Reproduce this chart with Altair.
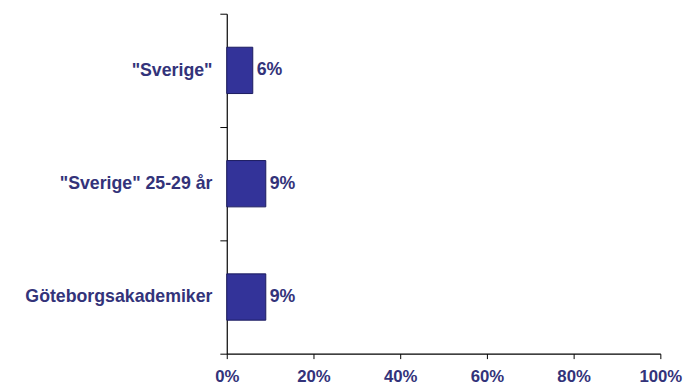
import altair as alt
import pandas as pd

categories = ['"Sverige"', '"Sverige" 25-29 år', "Göteborgsakademiker"]
values = [0.06, 0.09, 0.09]
labels = ["6%", "9%", "9%"]

df = pd.DataFrame({"cat": categories, "val": values, "lab": labels})

FONT = "Liberation Sans"
TXT = "#33337a"

y = alt.Y("cat:N", sort=categories, title=None,
          scale=alt.Scale(paddingInner=0, paddingOuter=0),
          axis=alt.Axis(tickBand="extent", domainColor="black", tickColor="black",
                        tickSize=7, labelFont=FONT, labelFontSize=18, labelFontWeight="bold",
                        labelColor=TXT, labelPadding=8, labelLimit=400, grid=False, domainWidth=1.2))
x = alt.X("val:Q", title=None, scale=alt.Scale(domain=[0, 1], nice=False),
          axis=alt.Axis(values=[0, 0.2, 0.4, 0.6, 0.8, 1.0], format=".0%", domainColor="black",
                        tickColor="black", tickSize=5, labelFont=FONT, labelFontSize=17,
                        labelFontWeight="bold", labelColor=TXT, labelPadding=10, grid=False,
                        labelFlush=False, domainWidth=1.2))

bars = alt.Chart(df).mark_bar(size=47, color="#333399", stroke="#1a1a5e", strokeWidth=1).encode(x=x, y=y)
text = alt.Chart(df).mark_text(align="left", baseline="middle", dx=4, font=FONT, fontSize=18,
                               fontWeight="bold", color=TXT).encode(x="val:Q", y=alt.Y("cat:N", sort=categories), text="lab:N")

chart = (bars + text).properties(
    width=440, height=345,
    autosize=alt.AutoSizeParams(type="none"),
    padding={"left": 222, "top": 3, "right": 24, "bottom": 31},
    background="white",
).configure_view(stroke=None, strokeWidth=0)

chart.save("out.html", embed_options={"renderer": "svg", "actions": False})
